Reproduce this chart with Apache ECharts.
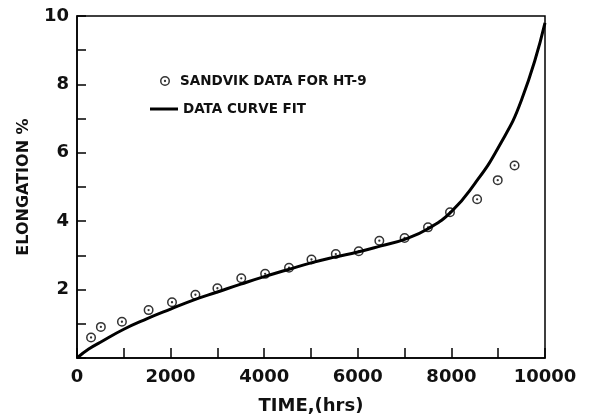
<!DOCTYPE html>
<html lang="en">
	<head>
		<meta charset="UTF-8" />
		<title>Elongation vs time</title>
		<script src="https://cdn.jsdelivr.net/npm/echarts@6/dist/echarts.min.js"></script>
		<style>
			html, body { margin: 0; padding: 0; background: #fff; }
		</style>
	</head>
	<body>
		<div id="main" style="width: 589px; height: 420px"></div>
		<script type="text/javascript">
			// Sandvik measurements (hours, elongation %)
			const dataHours = [300, 510, 960, 1530, 2030, 2530, 3000, 3510, 4020, 4530, 5010, 5530, 6020, 6460, 7000, 7500, 7970, 8550, 8990, 9350];
			const dataElong = [0.6, 0.91, 1.06, 1.4, 1.63, 1.85, 2.04, 2.33, 2.46, 2.64, 2.88, 3.04, 3.12, 3.43, 3.51, 3.82, 4.26, 4.64, 5.2, 5.63];
			// curve fit
			const fitHours = [0, 250, 500, 1000, 1500, 2000, 2500, 3000, 3500, 4000, 4500, 5000, 5500, 6000, 6500, 7000, 7500, 8000, 8500, 9000, 9500, 10000];
			const fitElong = [0, 0.26, 0.46, 0.84, 1.15, 1.43, 1.7, 1.93, 2.16, 2.38, 2.58, 2.78, 2.95, 3.1, 3.28, 3.47, 3.78, 4.28, 5.1, 6.15, 7.55, 9.8];
			const xLabels = [0, 2000, 4000, 6000, 8000, 10000];
			const yLabels = [2, 4, 6, 8, 10];

			const font = "DejaVu Sans";
			const dotSymbol = "path://M0,-10A10,10 0 1,1 0,10A10,10 0 1,1 0,-10Z M0,-7A7,7 0 1,0 0,7A7,7 0 1,0 0,-7Z M0,-2.3A2.3,2.3 0 1,1 0,2.3A2.3,2.3 0 1,1 0,-2.3Z";

			let myChart = echarts.init(document.getElementById("main"));
			let options = {
				animation: false,
				backgroundColor: "#fff",
				grid: { left: 77, right: 44, top: 16, bottom: 58, show: true, borderColor: "#000", borderWidth: 1.5 },
				legend: [
					{
						left: 160, top: 74, padding: 0, orient: "vertical",
						itemWidth: 10, itemHeight: 10,
						data: [{ name: "SANDVIK DATA FOR HT-9", icon: dotSymbol }],
						textStyle: { fontFamily: font, fontWeight: "bold", fontSize: 13.5, color: "#111", padding: [0, 0, 0, 5] },
					},
					{
						left: 150, top: 102, padding: 0, orient: "vertical",
						itemWidth: 28, itemHeight: 3,
						data: [{ name: "DATA CURVE FIT", icon: "path://M0,0H28V3H0Z" }],
						textStyle: { fontFamily: font, fontWeight: "bold", fontSize: 13.5, color: "#111" },
					},
				],
				xAxis: {
					type: "value", min: 0, max: 10000, interval: 1000,
					name: "TIME,(hrs)", nameLocation: "middle", nameGap: 39,
					nameTextStyle: { fontFamily: font, fontWeight: "bold", fontSize: 18, color: "#111" },
					axisLine: { lineStyle: { color: "#000", width: 1.5 } },
					axisTick: { inside: true, length: 10, lineStyle: { color: "#000", width: 1.5 } },
					splitLine: { show: false },
					axisLabel: {
						margin: 10, fontFamily: font, fontWeight: "bold", fontSize: 18, color: "#111",
						formatter: (v) => (xLabels.includes(v) ? String(v) : ""),
					},
				},
				yAxis: {
					type: "value", min: 0, max: 10, interval: 1,
					name: "ELONGATION %", nameLocation: "middle", nameGap: 45,
					nameTextStyle: { fontFamily: font, fontWeight: "bold", fontSize: 16, color: "#111" },
					axisLine: { show: true, lineStyle: { color: "#000", width: 1.5 } },
					axisTick: { show: true, inside: true, length: 9, lineStyle: { color: "#000", width: 1.5 } },
					splitLine: { show: false },
					axisLabel: {
						margin: 8, fontFamily: font, fontWeight: "bold", fontSize: 18, color: "#111",
						formatter: (v) => (yLabels.includes(v) ? String(v) : ""),
					},
				},
				series: [
					{
						name: "DATA CURVE FIT",
						type: "line",
						smooth: 0.5,
						symbol: "none",
						lineStyle: { color: "#000", width: 3 },
						itemStyle: { color: "#000" },
						data: fitHours.map((h, i) => [h, fitElong[i]]),
					},
					{
						name: "SANDVIK DATA FOR HT-9",
						type: "scatter",
						symbol: dotSymbol,
						symbolSize: 10,
						itemStyle: { color: "#000" },
						data: dataHours.map((h, i) => [h, dataElong[i]]),
					},
				],
			};
			myChart.setOption(options);
		</script>
	</body>
</html>
